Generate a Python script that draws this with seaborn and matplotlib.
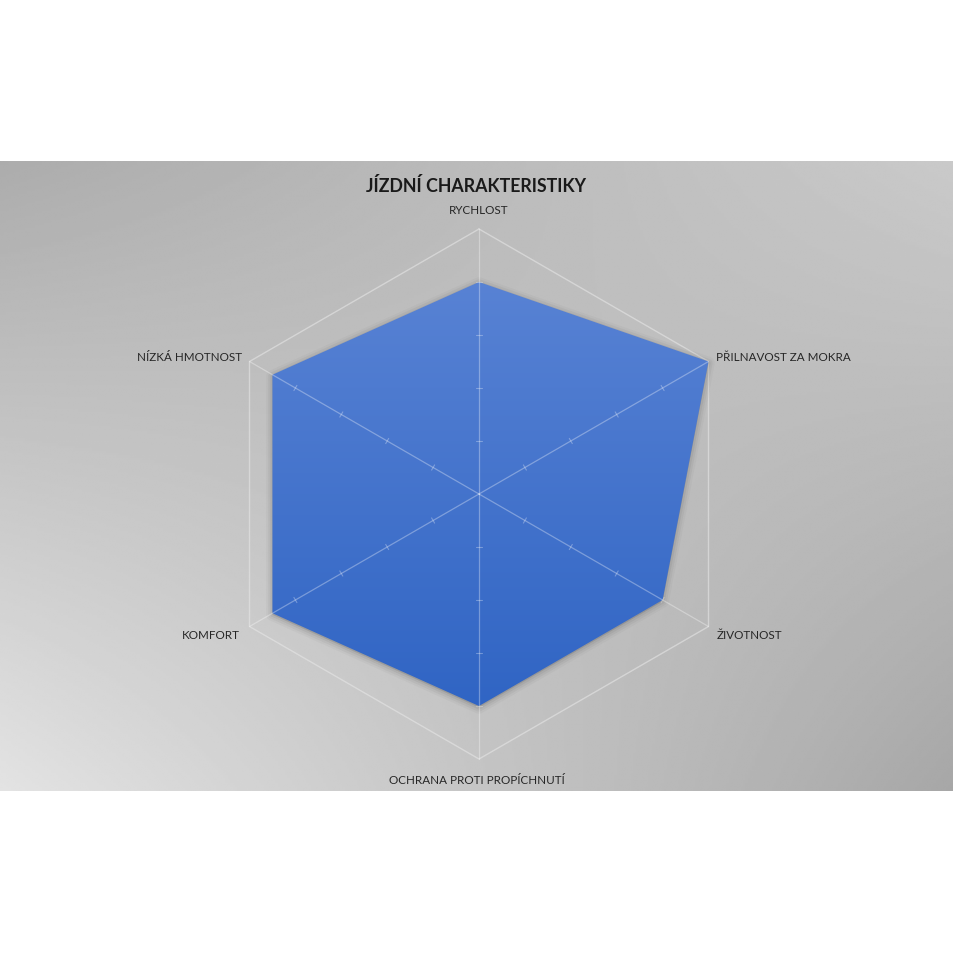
import numpy as np
import matplotlib
matplotlib.use("Agg")
import matplotlib.pyplot as plt
import seaborn as sns
import pandas as pd
from matplotlib.patches import Polygon

# ---- data ----
categories = ["RYCHLOST", "PŘILNAVOST ZA MOKRA", "ŽIVOTNOST",
              "OCHRANA PROTI PROPÍCHNUTÍ", "KOMFORT", "NÍZKÁ HMOTNOST"]
values = [4, 5, 4, 4, 4.5, 4.5]
axis_max = 5
tick_values = [1, 2, 3, 4]
title = "JÍZDNÍ CHARAKTERISTIKY"

sns.set_theme(style="white")
plt.rcParams['font.family'] = ['Lato', 'DejaVu Sans']

W = H = 954
fig = plt.figure(figsize=(9.54, 9.54), dpi=100)
fig.patch.set_facecolor('white')

# ---- gradient background panel ----
top_px, bot_px = 162, 792
bg = fig.add_axes([0, (H - bot_px) / H, 1, (bot_px - top_px) / H], zorder=0)
u = np.linspace(0, 1, 400)
v = np.linspace(0, 1, 260)
U, V = np.meshgrid(u, v)
TL, TR, BL, BR = 0.675, 0.79, 0.89, 0.655
grad = TL * (1 - U) * (1 - V) + TR * U * (1 - V) + BL * (1 - U) * V + BR * U * V
bg.imshow(grad, cmap='gray', vmin=0, vmax=1, aspect='auto', interpolation='bilinear')
bg.set_axis_off()

# ---- radar axes (cartesian, equal) ----
cx, cy, Rpx = 479, 495, 265
half = 300
ax = fig.add_axes([(cx - half) / W, (H - cy - half) / H, 2 * half / W, 2 * half / H], zorder=1)
ax.set_facecolor('none')
lim = half / Rpx * axis_max
ax.set_xlim(-lim, lim)
ax.set_ylim(-lim, lim)
ax.set_axis_off()
px = axis_max / Rpx  # data units per pixel

n = len(categories)
theta = np.arange(n) * 2 * np.pi / n
sx, sy = np.sin(theta), np.cos(theta)

# outer grid hexagon
grid_df = pd.DataFrame({"x": np.append(axis_max * sx, axis_max * sx[0]),
                        "y": np.append(axis_max * sy, axis_max * sy[0])})
sns.lineplot(data=grid_df, x="x", y="y", sort=False, estimator=None, ax=ax,
             color='#e6e6e6', alpha=0.6, lw=1.0, zorder=2)

# data polygon with shadow and vertical gradient
vals = np.array(values, dtype=float)
pts = np.column_stack([vals * sx, vals * sy])
for k, a in zip([9, 6, 3], [0.04, 0.06, 0.08]):
    sh = Polygon(pts + np.array([0, -1.5 * px]), closed=True, facecolor='#404040',
                 edgecolor='#404040', lw=k, alpha=a, joinstyle='round', zorder=2.5)
    ax.add_patch(sh)
poly = Polygon(pts, closed=True, facecolor='none', edgecolor='none', zorder=3)
ax.add_patch(poly)
gy = np.linspace(0, 1, 256)[:, None]
top_c = np.array([93, 134, 214]) / 255
bot_c = np.array([43, 97, 194]) / 255
img = top_c * (1 - gy[..., None]) + bot_c * gy[..., None]
img = np.repeat(img, 4, axis=1)
im = ax.imshow(img, extent=[-axis_max, axis_max, -axis_max, axis_max], aspect='auto',
               zorder=3, interpolation='bilinear')
im.set_clip_path(poly)

# spokes and tick marks
for i in range(n):
    ax.plot([0, axis_max * sx[i]], [0, axis_max * sy[i]], color='white', alpha=0.32,
            lw=0.9, zorder=4)
    perp = np.array([sy[i], -sx[i]])
    for t in tick_values:
        c = np.array([t * sx[i], t * sy[i]])
        p1, p2 = c - perp * 3.0 * px, c + perp * 3.0 * px
        ax.plot([p1[0], p2[0]], [p1[1], p2[1]], color='white', alpha=0.3, lw=0.8, zorder=4)

# category labels
offsets = [(0, 20, 'center', 'center'), (8, 5, 'left', 'center'), (8, -8, 'left', 'center'),
           (-2, -21, 'center', 'center'), (-10, -8, 'right', 'center'), (-8, 5, 'right', 'center')]
for i, lab in enumerate(categories):
    dx, dy, ha, va = offsets[i]
    ax.text(axis_max * sx[i] + dx * px, axis_max * sy[i] + dy * px, lab,
            ha=ha, va=va, fontsize=8.4, color='#262626', zorder=5)

fig.text(476 / W, 1 - 186 / H, title, ha='center', va='center', fontsize=12.8,
         fontweight='bold', color='#1a1a1a')

fig.savefig("out.png", dpi=100, facecolor='white')
